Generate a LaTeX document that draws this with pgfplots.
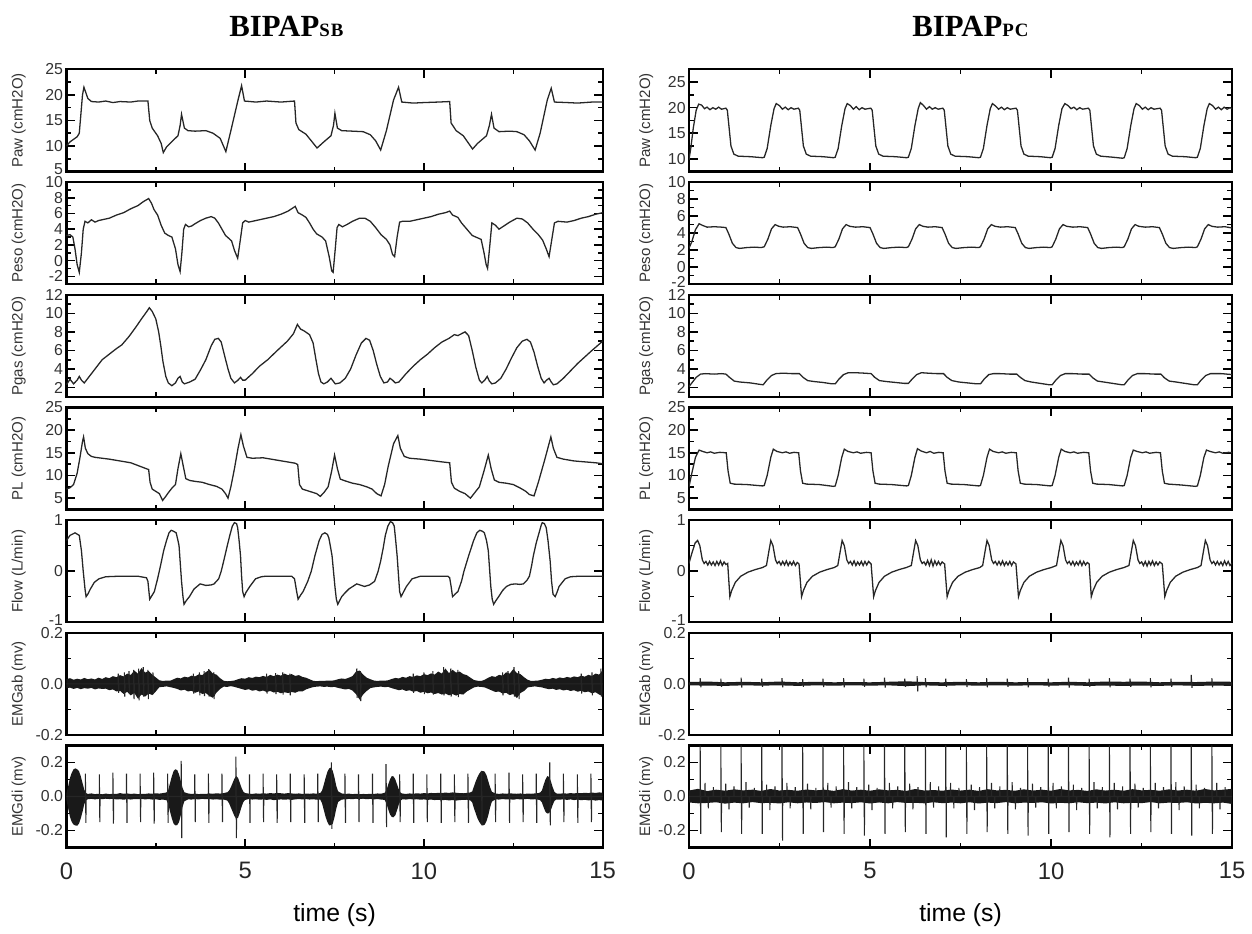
\documentclass[border=0pt]{standalone}
\usepackage{pgfplots}
\pgfplotsset{compat=1.18}
\usepackage{pgfplotstable}
\usepackage{fontspec}
\setmainfont{Liberation Sans}
\newfontfamily\titlefont{Liberation Serif}

\newcommand\up[1]{\raisebox{2.5pt}{#1}}
\newcommand\dn[1]{\raisebox{-1.5pt}{#1}}

\pgfplotsset{
  panel/.style={
    scale only axis, height=51.5pt,
    xmin=0, xmax=15, xtick={0,5,10,15}, minor x tick num=1,
    xticklabels={}, minor y tick num=1,
    tick align=inside,
    major tick length=4.5pt, minor tick length=2.5pt,
    tick style={black, line width=0.8pt},
    axis line style={line width=1.1pt},
    tick label style={font=\fontsize{8}{9}\selectfont, color=black!80},
    yticklabel style={inner sep=1.5pt},
  },
  ylab/.style={every axis y label/.style={at={(axis description cs:0,0.5)},
      xshift=#1, rotate=90, anchor=center,
      font=\fontsize{7.6}{8}\selectfont, color=black!80}},
  L/.style={panel, width=270.5pt, ylab=-24pt},
  R/.style={panel, width=274pt, ylab=-21.5pt},
  sig/.style={black!85, line width=0.65pt},
  spk/.style={black!85, line width=0.55pt},
  band/.style={fill=black!90, draw=none},
  bottom/.style={xticklabels={0,5,10,15},
    xticklabel style={font=\fontsize{12}{13}\selectfont, color=black!85, yshift=-4pt},
    xlabel={time (s)},
    every axis x label/.style={at={(axis description cs:0.5,0)}, anchor=center,
      yshift=-34pt, font=\fontsize{12.5}{14}\selectfont}},
}

% EMG envelopes: t, upper, lower
\pgfplotstableread{
t u l
0.0 .018 -.017
0.1 .022 -.015
0.2 .016 -.020
0.3 .020 -.016
0.4 .017 -.021
0.5 .023 -.017
0.6 .018 -.019
0.7 .021 -.016
0.8 .017 -.022
0.9 .024 -.018
1.0 .019 -.020
1.1 .026 -.019
1.2 .022 -.025
1.3 .030 -.022
1.4 .026 -.030
1.5 .034 -.027
1.6 .029 -.040
1.7 .040 -.031
1.8 .035 -.045
1.9 .052 -.036
2.0 .040 -.058
2.1 .062 -.042
2.2 .044 -.050
2.3 .050 -.038
2.4 .036 -.044
2.5 .025 -.030
2.6 .014 -.013
2.7 .011 -.012
2.8 .013 -.010
2.9 .012 -.013
3.0 .018 -.016
3.1 .024 -.020
3.2 .021 -.026
3.3 .028 -.023
3.4 .025 -.030
3.5 .032 -.027
3.6 .029 -.035
3.7 .037 -.030
3.8 .034 -.040
3.9 .046 -.036
4.0 .055 -.048
4.1 .040 -.055
4.2 .036 -.034
4.3 .022 -.020
4.4 .012 -.011
4.5 .010 -.012
4.6 .011 -.009
4.7 .013 -.012
4.8 .018 -.016
4.9 .022 -.020
5.0 .020 -.024
5.1 .026 -.021
5.2 .023 -.027
5.3 .028 -.024
5.4 .026 -.030
5.5 .031 -.026
5.6 .027 -.032
5.7 .035 -.028
5.8 .030 -.034
5.9 .036 -.031
6.0 .032 -.037
6.1 .040 -.033
6.2 .034 -.036
6.3 .038 -.032
6.4 .031 -.035
6.5 .034 -.029
6.6 .027 -.030
6.7 .024 -.022
6.8 .018 -.017
6.9 .012 -.013
7.0 .010 -.011
7.1 .012 -.010
7.2 .011 -.012
7.3 .013 -.011
7.4 .012 -.013
7.5 .014 -.012
7.6 .018 -.016
7.7 .021 -.019
7.8 .019 -.022
7.9 .024 -.020
8.0 .030 -.026
8.1 .048 -.040
8.2 .052 -.062
8.3 .036 -.042
8.4 .024 -.028
8.5 .018 -.017
8.6 .013 -.014
8.7 .011 -.012
8.8 .013 -.011
8.9 .012 -.013
9.0 .014 -.012
9.1 .019 -.017
9.2 .023 -.021
9.3 .021 -.025
9.4 .027 -.022
9.5 .024 -.028
9.6 .030 -.025
9.7 .027 -.031
9.8 .033 -.028
9.9 .030 -.035
10.0 .038 -.031
10.1 .034 -.037
10.2 .041 -.034
10.3 .036 -.040
10.4 .048 -.036
10.5 .040 -.042
10.6 .060 -.038
10.7 .042 -.045
10.8 .055 -.040
10.9 .044 -.046
11.0 .048 -.040
11.1 .038 -.042
11.2 .034 -.030
11.3 .024 -.022
11.4 .015 -.014
11.5 .012 -.011
11.6 .011 -.012
11.7 .016 -.014
11.8 .024 -.020
11.9 .030 -.026
12.0 .027 -.032
12.1 .035 -.030
12.2 .032 -.038
12.3 .045 -.035
12.4 .040 -.044
12.5 .058 -.040
12.6 .042 -.056
12.7 .038 -.036
12.8 .026 -.028
12.9 .016 -.014
13.0 .011 -.012
13.1 .012 -.010
13.2 .013 -.012
13.3 .016 -.014
13.4 .020 -.018
13.5 .018 -.021
13.6 .023 -.019
13.7 .020 -.024
13.8 .025 -.021
13.9 .022 -.026
14.0 .027 -.023
14.1 .024 -.028
14.2 .029 -.025
14.3 .026 -.031
14.4 .032 -.027
14.5 .028 -.033
14.6 .035 -.030
14.7 .031 -.037
14.8 .040 -.033
14.9 .036 -.042
15.0 .052 -.048
}\emgabL

\pgfplotstableread{
t u l
0.00 .020 -.020
0.05 .060 -.070
0.10 .110 -.120
0.15 .140 -.150
0.20 .160 -.165
0.25 .165 -.170
0.30 .160 -.172
0.35 .150 -.160
0.40 .120 -.130
0.45 .080 -.090
0.50 .040 -.045
0.55 .020 -.022
0.6 .015 -.016
0.7 .018 -.014
0.8 .014 -.017
0.9 .016 -.014
1.0 .013 -.016
1.1 .017 -.013
1.2 .014 -.015
1.3 .016 -.014
1.4 .015 -.017
1.5 .020 -.016
1.6 .016 -.019
1.7 .018 -.015
1.8 .015 -.018
1.9 .017 -.015
2.0 .014 -.016
2.1 .016 -.014
2.2 .015 -.017
2.3 .018 -.015
2.4 .016 -.018
2.5 .019 -.016
2.6 .017 -.020
2.7 .020 -.018
2.8 .024 -.022
2.85 .040 -.045
2.90 .080 -.090
2.95 .120 -.130
3.00 .150 -.160
3.05 .160 -.170
3.10 .155 -.168
3.15 .130 -.150
3.20 .090 -.110
3.25 .050 -.060
3.30 .025 -.028
3.4 .018 -.017
3.5 .015 -.018
3.6 .017 -.015
3.7 .014 -.017
3.8 .016 -.014
3.9 .015 -.016
4.0 .018 -.015
4.1 .016 -.018
4.2 .019 -.016
4.3 .017 -.019
4.4 .020 -.018
4.5 .025 -.024
4.55 .035 -.040
4.60 .055 -.065
4.65 .080 -.090
4.70 .105 -.115
4.75 .120 -.130
4.80 .110 -.125
4.85 .080 -.095
4.90 .050 -.060
4.95 .028 -.032
5.0 .020 -.020
5.1 .017 -.015
5.2 .015 -.018
5.3 .018 -.016
5.4 .016 -.019
5.5 .019 -.017
5.6 .017 -.020
5.7 .020 -.017
5.8 .018 -.021
5.9 .021 -.019
6.0 .019 -.017
6.1 .017 -.019
6.2 .020 -.017
6.3 .018 -.020
6.4 .016 -.017
6.5 .018 -.015
6.6 .015 -.017
6.7 .017 -.015
6.8 .016 -.018
6.9 .018 -.016
7.0 .017 -.019
7.1 .020 -.018
7.15 .035 -.040
7.20 .070 -.080
7.25 .110 -.120
7.30 .145 -.150
7.35 .165 -.170
7.40 .170 -.168
7.45 .150 -.160
7.50 .110 -.120
7.55 .060 -.070
7.60 .030 -.032
7.7 .018 -.018
7.8 .015 -.017
7.9 .017 -.014
8.0 .014 -.016
8.1 .016 -.013
8.2 .013 -.015
8.3 .015 -.013
8.4 .014 -.016
8.5 .016 -.014
8.6 .015 -.017
8.7 .018 -.015
8.8 .016 -.018
8.9 .022 -.020
8.95 .035 -.040
9.00 .070 -.075
9.05 .100 -.105
9.10 .120 -.120
9.15 .118 -.122
9.20 .100 -.110
9.25 .070 -.080
9.30 .040 -.045
9.35 .022 -.024
9.4 .017 -.016
9.5 .015 -.018
9.6 .018 -.015
9.7 .016 -.017
9.8 .019 -.016
9.9 .017 -.019
10.0 .020 -.017
10.1 .018 -.020
10.2 .021 -.018
10.3 .019 -.021
10.4 .022 -.019
10.5 .020 -.022
10.6 .023 -.020
10.7 .021 -.023
10.8 .024 -.021
10.9 .022 -.024
11.0 .020 -.021
11.1 .019 -.020
11.2 .021 -.019
11.3 .024 -.023
11.35 .030 -.035
11.40 .060 -.070
11.45 .090 -.100
11.50 .115 -.130
11.55 .135 -.150
11.60 .148 -.165
11.65 .150 -.170
11.70 .145 -.165
11.75 .125 -.145
11.80 .090 -.110
11.85 .055 -.065
11.90 .028 -.030
12.0 .018 -.017
12.1 .015 -.018
12.2 .018 -.015
12.3 .016 -.017
12.4 .019 -.016
12.5 .017 -.019
12.6 .016 -.015
12.7 .018 -.017
12.8 .015 -.016
12.9 .017 -.014
13.0 .016 -.017
13.1 .018 -.016
13.2 .020 -.019
13.25 .024 -.022
13.30 .035 -.035
13.35 .070 -.065
13.40 .100 -.090
13.45 .120 -.100
13.50 .115 -.098
13.55 .090 -.080
13.60 .055 -.050
13.65 .028 -.026
13.7 .018 -.018
13.8 .016 -.019
13.9 .019 -.016
14.0 .017 -.020
14.1 .020 -.017
14.2 .018 -.021
14.3 .021 -.018
14.4 .019 -.022
14.5 .022 -.019
14.6 .020 -.023
14.7 .023 -.020
14.8 .021 -.024
14.9 .024 -.021
15.0 .022 -.024
}\emgdiL

\pgfplotstableread{
t u l
0.0 .007 -.006
0.5 .009 -.007
1.0 .006 -.008
1.5 .008 -.006
2.0 .006 -.007
2.5 .009 -.006
3.0 .006 -.008
3.5 .008 -.006
4.0 .006 -.007
4.5 .007 -.006
5.0 .006 -.007
5.5 .008 -.006
6.0 .010 -.009
6.5 .007 -.006
7.0 .006 -.008
7.5 .008 -.006
8.0 .006 -.007
8.5 .008 -.006
9.0 .006 -.007
9.5 .007 -.006
10.0 .006 -.007
10.5 .008 -.006
11.0 .006 -.008
11.5 .009 -.007
12.0 .008 -.008
12.5 .009 -.007
13.0 .006 -.008
13.5 .008 -.006
14.0 .007 -.008
14.5 .009 -.007
15.0 .008 -.008
}\emgabR

\pgfplotstableread{
t u l
0.0 .035 -.035
0.25 .045 -.040
0.5 .032 -.038
0.75 .040 -.034
1.0 .034 -.042
1.25 .042 -.036
1.5 .036 -.040
1.75 .040 -.033
2.0 .033 -.039
2.25 .044 -.037
2.5 .035 -.041
2.75 .039 -.034
3.0 .034 -.040
3.25 .041 -.035
3.5 .036 -.038
3.75 .040 -.033
4.0 .033 -.040
4.25 .043 -.036
4.5 .035 -.039
4.75 .040 -.034
5.0 .034 -.041
5.25 .042 -.035
5.5 .036 -.040
5.75 .039 -.033
6.0 .033 -.038
6.25 .044 -.037
6.5 .035 -.040
6.75 .038 -.034
7.0 .034 -.039
7.25 .041 -.036
7.5 .035 -.040
7.75 .040 -.034
8.0 .033 -.041
8.25 .043 -.036
8.5 .036 -.039
8.75 .039 -.033
9.0 .034 -.040
9.25 .042 -.036
9.5 .035 -.038
9.75 .040 -.034
10.0 .034 -.041
10.25 .044 -.037
10.5 .036 -.040
10.75 .039 -.034
11.0 .033 -.039
11.25 .042 -.036
11.5 .035 -.041
11.75 .040 -.034
12.0 .034 -.040
12.25 .043 -.037
12.5 .036 -.039
12.75 .039 -.033
13.0 .034 -.040
13.25 .042 -.036
13.5 .035 -.038
13.75 .040 -.034
14.0 .034 -.041
14.25 .044 -.037
14.5 .036 -.040
14.75 .040 -.036
15.0 .045 -.044
}\emgdiR

\begin{document}
\begin{tikzpicture}
\path (0,0) rectangle (626pt,463.5pt);

\node[anchor=base west, inner sep=0pt] at (115.5pt,445pt)
  {{\titlefont\bfseries\fontsize{15.5}{18}\selectfont BIPAP}{\titlefont\bfseries\fontsize{9.5}{10}\selectfont S\kern0.6pt B}};
\node[anchor=base west, inner sep=0pt] at (460pt,445pt)
  {{\titlefont\bfseries\fontsize{15.5}{18}\selectfont BIPAP}{\titlefont\bfseries\fontsize{9.5}{10}\selectfont P\kern0.6pt C}};

% ---------------- left column: BIPAP SB ----------------
\begin{axis}[L, at={(33.5pt,377pt)}, anchor=south west,
  ymin=5, ymax=25, ytick={5,10,15,20,25}, yticklabels={\up{5},10,15,20,25},
  ylabel={Paw (cmH2O)}]
\addplot[sig] coordinates {(0,10)(0.1,10.8)(0.3,11.8)(0.36,12.5)(0.45,20)(0.49,21.5)(0.6,19.3)(0.7,18.7)(0.9,18.6)(1.1,18.8)(1.3,18.5)(1.5,18.7)(1.8,18.6)(2.0,18.8)(2.28,18.8)(2.33,15)(2.4,13.5)(2.55,12)(2.65,10.5)(2.71,8.7)(2.8,9.8)(3.0,11.2)(3.12,12)(3.18,14)(3.22,16.2)(3.3,13.5)(3.4,13)(3.6,12.9)(3.9,13)(4.1,12.5)(4.3,11.5)(4.46,8.9)(4.6,13)(4.8,19)(4.90,21.8)(4.98,18.8)(5.3,18.6)(5.6,18.8)(6.0,18.6)(6.38,18.8)(6.42,14.5)(6.5,13.2)(6.7,12.3)(6.85,11)(7.01,9.6)(7.2,10.8)(7.4,12)(7.47,14)(7.51,16.4)(7.58,13.5)(7.7,13)(8.0,12.9)(8.3,12.8)(8.5,12.2)(8.65,11)(8.79,9.2)(8.95,13)(9.15,19)(9.29,21.5)(9.38,18.6)(9.7,18.4)(10,18.5)(10.4,18.6)(10.72,18.7)(10.76,14.5)(10.9,13)(11.1,12)(11.2,11)(11.36,9.4)(11.5,10.5)(11.75,12)(11.83,14)(11.89,16.2)(11.96,13.5)(12.1,12.8)(12.4,12.9)(12.6,12.8)(12.8,12.2)(12.95,11)(13.11,9.2)(13.25,12.5)(13.45,19)(13.56,21.3)(13.65,18.6)(14.0,18.5)(14.3,18.4)(14.7,18.6)(15,18.6)};
\end{axis}

\begin{axis}[L, at={(33.5pt,320.17pt)}, anchor=south west,
  ymin=-3, ymax=10, ytick={-2,0,2,4,6,8,10}, yticklabels={-2,0,2,4,6,8,\dn{10}},
  ylabel={Peso (cmH2O)}]
\addplot[sig] coordinates {(0,3.2)(0.1,3.3)(0.18,3.0)(0.24,1.5)(0.30,-0.5)(0.36,-1.5)(0.42,1.0)(0.47,4.0)(0.52,5.0)(0.6,4.8)(0.7,5.2)(0.8,4.9)(0.9,5.1)(1.0,5.2)(1.2,5.4)(1.4,5.8)(1.6,6.1)(1.8,6.6)(2.0,7.0)(2.15,7.5)(2.30,7.9)(2.38,7.3)(2.45,6.5)(2.55,5.8)(2.65,4.5)(2.75,3.5)(2.85,3.2)(2.95,3.0)(3.05,1.5)(3.12,-0.5)(3.18,-1.4)(3.23,1.0)(3.28,4.0)(3.33,4.6)(3.42,4.3)(3.5,4.4)(3.6,4.7)(3.75,5.1)(3.9,5.4)(4.05,5.6)(4.15,5.4)(4.25,4.8)(4.35,4.0)(4.45,3.2)(4.55,2.8)(4.62,2.5)(4.70,1.3)(4.79,0.3)(4.86,2.5)(4.93,4.8)(5.0,5.1)(5.1,4.9)(5.2,5.0)(5.4,5.2)(5.6,5.4)(5.8,5.6)(6.0,5.9)(6.2,6.3)(6.4,6.9)(6.48,6.1)(6.6,5.8)(6.7,5.5)(6.8,4.8)(6.9,4.0)(7.0,3.4)(7.15,3.0)(7.25,2.5)(7.35,0.5)(7.42,-1.3)(7.46,-1.5)(7.52,1.5)(7.57,4.2)(7.62,4.6)(7.72,4.3)(7.85,4.6)(8.0,5.0)(8.2,5.4)(8.35,5.4)(8.5,5.0)(8.65,4.2)(8.8,3.3)(8.95,2.7)(9.05,2.0)(9.12,0.8)(9.18,0.5)(9.25,3.0)(9.32,4.9)(9.4,5.0)(9.6,5.0)(9.8,5.2)(10.0,5.4)(10.2,5.6)(10.4,5.9)(10.6,6.1)(10.72,6.3)(10.8,5.8)(10.95,5.5)(11.05,4.8)(11.2,4.0)(11.35,3.2)(11.5,2.9)(11.6,2.7)(11.68,1.0)(11.74,-0.5)(11.78,-1.0)(11.84,1.8)(11.9,4.8)(12.0,4.5)(12.1,4.0)(12.2,4.3)(12.4,4.9)(12.6,5.4)(12.75,5.3)(12.9,4.8)(13.05,4.0)(13.2,3.3)(13.32,2.6)(13.42,1.5)(13.5,0.5)(13.57,2.5)(13.65,4.8)(13.75,5.0)(14.0,4.9)(14.2,5.1)(14.4,5.4)(14.6,5.6)(14.8,5.9)(15.0,6.1)};
\end{axis}

\begin{axis}[L, at={(33.5pt,263.33pt)}, anchor=south west,
  ymin=1, ymax=12, ytick={2,4,6,8,10,12}, yticklabels={2,4,6,8,10,12},
  ylabel={Pgas (cmH2O)}]
\addplot[sig] coordinates {(0,2.3)(0.1,2.9)(0.2,2.4)(0.3,2.8)(0.36,3.2)(0.42,2.8)(0.5,2.5)(0.6,3.0)(0.8,4.0)(1.0,5.0)(1.2,5.6)(1.4,6.2)(1.55,6.6)(1.75,7.5)(1.94,8.5)(2.1,9.4)(2.25,10.2)(2.32,10.6)(2.4,10.2)(2.5,9.4)(2.58,8.0)(2.64,6.5)(2.7,4.8)(2.78,3.2)(2.85,2.5)(2.95,2.2)(3.05,2.5)(3.12,3.0)(3.18,3.2)(3.24,2.6)(3.3,2.4)(3.45,2.6)(3.6,2.9)(3.75,3.9)(3.9,5.0)(4.05,6.5)(4.15,7.2)(4.25,7.3)(4.33,6.9)(4.42,5.5)(4.52,4.0)(4.6,3.0)(4.7,2.5)(4.8,2.8)(4.87,3.1)(4.93,2.8)(5.0,2.8)(5.2,3.5)(5.4,4.3)(5.63,5.0)(5.9,6.0)(6.18,7.0)(6.35,7.8)(6.46,8.8)(6.55,8.3)(6.65,8.1)(6.8,7.7)(6.9,6.8)(6.98,5.0)(7.05,3.5)(7.12,2.6)(7.2,2.4)(7.3,2.6)(7.4,3.0)(7.46,2.7)(7.52,2.4)(7.65,2.5)(7.8,3.0)(7.95,4.0)(8.1,5.5)(8.25,6.8)(8.38,7.3)(8.48,7.1)(8.58,6.0)(8.68,4.5)(8.78,3.2)(8.88,2.5)(8.98,2.6)(9.05,3.0)(9.12,2.8)(9.2,2.5)(9.3,2.6)(9.5,3.5)(9.7,4.3)(9.9,5.0)(10.1,5.6)(10.3,6.3)(10.5,6.9)(10.7,7.3)(10.85,7.7)(10.95,7.6)(11.05,7.8)(11.15,8.0)(11.25,7.6)(11.35,6.0)(11.45,4.2)(11.55,2.8)(11.62,2.5)(11.7,2.8)(11.77,3.2)(11.83,2.7)(11.9,2.4)(12.0,2.5)(12.15,3.0)(12.3,4.0)(12.45,5.2)(12.6,6.3)(12.75,7.0)(12.88,7.2)(12.98,6.9)(13.08,5.8)(13.18,4.3)(13.28,3.0)(13.36,2.5)(13.43,2.8)(13.5,3.0)(13.56,2.6)(13.62,2.3)(13.72,2.4)(13.9,3.0)(14.1,3.8)(14.3,4.6)(14.5,5.3)(14.7,6.0)(14.85,6.5)(15.0,7.0)};
\end{axis}

\begin{axis}[L, at={(33.5pt,206.5pt)}, anchor=south west,
  ymin=2.5, ymax=25, ytick={5,10,15,20,25}, yticklabels={5,10,15,20,25},
  ylabel={PL (cmH2O)}]
\addplot[sig] coordinates {(0,7.0)(0.1,7.3)(0.2,8.0)(0.3,10.5)(0.38,14)(0.45,17.5)(0.48,18.5)(0.53,16)(0.6,14.8)(0.7,14.2)(0.8,14.0)(1.0,13.8)(1.2,13.6)(1.5,13.2)(1.8,12.8)(2.0,12.2)(2.2,11.6)(2.30,11.3)(2.34,8.5)(2.4,7.0)(2.5,6.5)(2.6,6.0)(2.69,4.5)(2.77,5.3)(2.85,6.2)(2.95,7.2)(3.05,8.0)(3.12,11.5)(3.2,14.8)(3.27,12)(3.34,9.3)(3.45,8.9)(3.6,8.7)(3.8,8.5)(4.0,8.0)(4.2,7.6)(4.35,7.0)(4.45,6.0)(4.52,5.0)(4.6,7.5)(4.7,11.5)(4.8,16)(4.88,19.0)(4.95,16.5)(5.05,14)(5.2,13.8)(5.5,13.9)(5.8,13.5)(6.1,13.1)(6.4,12.7)(6.47,12.4)(6.52,8.0)(6.6,7.0)(6.8,6.5)(7.0,6.0)(7.1,5.4)(7.2,6.2)(7.32,7.5)(7.42,11.0)(7.5,14.5)(7.58,11.5)(7.66,9.2)(7.8,8.8)(8.0,8.3)(8.2,8.0)(8.4,7.5)(8.55,7.0)(8.68,6.0)(8.8,5.5)(8.9,8.0)(9.0,12.0)(9.15,17)(9.27,18.8)(9.34,16)(9.45,14.2)(9.6,13.8)(9.9,13.6)(10.2,13.3)(10.5,13.0)(10.72,12.8)(10.77,8.5)(10.85,7.2)(11.0,6.5)(11.15,6.0)(11.3,5.0)(11.4,6.0)(11.55,7.5)(11.68,11)(11.8,14.5)(11.88,11.5)(11.97,9.0)(12.1,8.5)(12.3,8.3)(12.5,8.0)(12.7,7.2)(12.85,6.5)(12.95,5.8)(13.08,5.5)(13.2,8.5)(13.38,13.5)(13.55,18.5)(13.62,16)(13.72,14.0)(13.9,13.6)(14.2,13.2)(14.5,13.0)(14.8,12.8)(15.0,12.6)};
\end{axis}

\begin{axis}[L, at={(33.5pt,149.67pt)}, anchor=south west,
  ymin=-1, ymax=1, ytick={-1,0,1}, yticklabels={\up{-1},0,1},
  ylabel={Flow (L/min)}]
\addplot[sig] coordinates {(0,0.6)(0.1,0.7)(0.24,0.75)(0.36,0.7)(0.42,0.4)(0.47,0.0)(0.52,-0.35)(0.55,-0.5)(0.6,-0.45)(0.67,-0.35)(0.78,-0.22)(0.91,-0.15)(1.1,-0.11)(1.46,-0.1)(2.0,-0.1)(2.24,-0.13)(2.28,-0.2)(2.33,-0.55)(2.40,-0.47)(2.46,-0.4)(2.55,-0.15)(2.63,0.1)(2.72,0.4)(2.80,0.6)(2.87,0.75)(2.93,0.8)(3.0,0.78)(3.07,0.75)(3.12,0.6)(3.15,0.5)(3.19,0.1)(3.22,-0.2)(3.26,-0.5)(3.29,-0.65)(3.35,-0.58)(3.44,-0.5)(3.57,-0.35)(3.74,-0.25)(3.9,-0.28)(4.05,-0.27)(4.13,-0.25)(4.26,-0.15)(4.33,0.0)(4.4,0.2)(4.5,0.5)(4.57,0.7)(4.64,0.88)(4.70,0.95)(4.76,0.93)(4.79,0.85)(4.83,0.6)(4.87,0.3)(4.90,-0.1)(4.93,-0.4)(4.97,-0.5)(5.02,-0.42)(5.13,-0.3)(5.29,-0.15)(5.45,-0.11)(5.57,-0.1)(6.3,-0.1)(6.38,-0.15)(6.44,-0.4)(6.48,-0.55)(6.55,-0.47)(6.62,-0.4)(6.75,-0.2)(6.85,0.0)(6.95,0.3)(7.07,0.6)(7.15,0.72)(7.23,0.75)(7.3,0.72)(7.34,0.65)(7.38,0.5)(7.43,0.3)(7.47,0.0)(7.51,-0.3)(7.55,-0.55)(7.59,-0.65)(7.64,-0.58)(7.70,-0.5)(7.8,-0.42)(7.9,-0.35)(8.12,-0.25)(8.25,-0.28)(8.34,-0.3)(8.48,-0.27)(8.62,-0.2)(8.72,0.0)(8.79,0.2)(8.86,0.45)(8.92,0.7)(8.99,0.88)(9.06,0.97)(9.12,0.95)(9.17,0.88)(9.21,0.6)(9.25,0.3)(9.28,0.0)(9.32,-0.4)(9.36,-0.5)(9.42,-0.42)(9.51,-0.3)(9.67,-0.15)(9.9,-0.1)(10.67,-0.1)(10.72,-0.13)(10.76,-0.3)(10.80,-0.5)(10.87,-0.45)(10.95,-0.4)(11.05,-0.2)(11.12,0.0)(11.25,0.3)(11.39,0.6)(11.48,0.75)(11.56,0.8)(11.64,0.78)(11.69,0.75)(11.75,0.6)(11.80,0.4)(11.84,0.0)(11.87,-0.3)(11.91,-0.55)(11.95,-0.65)(12.01,-0.58)(12.09,-0.5)(12.2,-0.38)(12.31,-0.3)(12.43,-0.26)(12.56,-0.25)(12.68,-0.26)(12.78,-0.25)(12.88,-0.18)(12.95,-0.1)(13.01,0.1)(13.06,0.3)(13.14,0.55)(13.22,0.75)(13.28,0.9)(13.31,0.95)(13.37,0.93)(13.42,0.85)(13.47,0.6)(13.53,0.2)(13.57,-0.2)(13.61,-0.45)(13.67,-0.5)(13.72,-0.42)(13.78,-0.3)(13.95,-0.15)(14.1,-0.11)(14.33,-0.1)(15,-0.1)};
\end{axis}

\begin{axis}[L, at={(33.5pt,92.83pt)}, anchor=south west,
  ymin=-0.2, ymax=0.2, ytick={-0.2,0,0.2}, yticklabels={-0.2,0.0,\dn{0.2}},
  ylabel={EMGab (mv)}]
\addplot[band] table[x=t,y=u] {\emgabL} \closedcycle;
\addplot[band] table[x=t,y=l] {\emgabL} \closedcycle;
% sharper individual excursions within the bursts
\addplot[spk] coordinates {(0,0)
(1.45,0)(1.45,.04)(1.462,-.035)(1.47,0)
(1.62,0)(1.62,.045)(1.632,-.05)(1.64,0)
(1.75,0)(1.75,.05)(1.762,-.04)(1.77,0)
(1.88,0)(1.88,.055)(1.892,-.06)(1.90,0)
(2.02,0)(2.02,.06)(2.032,-.065)(2.04,0)
(2.15,0)(2.15,.065)(2.162,-.05)(2.17,0)
(2.28,0)(2.28,.055)(2.292,-.06)(2.30,0)
(2.42,0)(2.42,.045)(2.432,-.04)(2.44,0)
(3.55,0)(3.55,.04)(3.562,-.038)(3.57,0)
(3.72,0)(3.72,.045)(3.732,-.045)(3.74,0)
(3.85,0)(3.85,.05)(3.862,-.048)(3.87,0)
(3.98,0)(3.98,.058)(3.992,-.05)(4.00,0)
(4.12,0)(4.12,.045)(4.132,-.06)(4.14,0)
(5.60,0)(5.60,.04)(5.612,-.038)(5.62,0)
(5.85,0)(5.85,.042)(5.862,-.04)(5.87,0)
(6.05,0)(6.05,.045)(6.062,-.042)(6.07,0)
(6.25,0)(6.25,.04)(6.262,-.045)(6.27,0)
(8.12,0)(8.12,.06)(8.132,-.055)(8.14,0)
(8.22,0)(8.22,.05)(8.232,-.068)(8.24,0)
(9.70,0)(9.70,.04)(9.712,-.035)(9.72,0)
(10.00,0)(10.00,.045)(10.012,-.04)(10.02,0)
(10.25,0)(10.25,.05)(10.262,-.042)(10.27,0)
(10.55,0)(10.55,.065)(10.562,-.045)(10.57,0)
(10.75,0)(10.75,.06)(10.762,-.05)(10.77,0)
(10.95,0)(10.95,.055)(10.962,-.052)(10.97,0)
(12.20,0)(12.20,.045)(12.212,-.045)(12.22,0)
(12.35,0)(12.35,.05)(12.362,-.04)(12.37,0)
(12.52,0)(12.52,.065)(12.532,-.05)(12.54,0)
(12.65,0)(12.65,.05)(12.662,-.06)(12.67,0)
(14.40,0)(14.40,.04)(14.412,-.038)(14.42,0)
(14.70,0)(14.70,.045)(14.712,-.045)(14.72,0)
(14.95,0)(14.95,.06)(14.962,-.05)(14.97,0)
(15,0)};
\end{axis}

\begin{axis}[L, bottom, at={(33.5pt,36pt)}, anchor=south west,
  ymin=-0.3, ymax=0.3, ytick={-0.2,0,0.2}, yticklabels={-0.2,0.0,0.2},
  ylabel={EMGdi (mv)}]
\addplot[band] table[x=t,y=u] {\emgdiL} \closedcycle;
\addplot[band] table[x=t,y=l] {\emgdiL} \closedcycle;
% cardiac artefact spikes
\addplot[spk] coordinates {(0,0)
(0.53,0)(0.53,.135)(0.545,-.155)(0.55,0)
(0.92,0)(0.92,.13)(0.935,-.15)(0.94,0)
(1.30,0)(1.30,.14)(1.315,-.16)(1.32,0)
(1.68,0)(1.68,.135)(1.695,-.155)(1.70,0)
(2.06,0)(2.06,.135)(2.075,-.15)(2.08,0)
(2.44,0)(2.44,.14)(2.455,-.16)(2.46,0)
(2.83,0)(2.83,.135)(2.845,-.155)(2.85,0)
(3.21,0)(3.21,.21)(3.225,-.245)(3.23,0)
(3.59,0)(3.59,.13)(3.605,-.15)(3.61,0)
(3.97,0)(3.97,.135)(3.985,-.155)(3.99,0)
(4.35,0)(4.35,.135)(4.365,-.15)(4.37,0)
(4.74,0)(4.74,.235)(4.755,-.245)(4.76,0)
(5.12,0)(5.12,.13)(5.135,-.155)(5.14,0)
(5.50,0)(5.50,.135)(5.515,-.15)(5.52,0)
(5.88,0)(5.88,.13)(5.895,-.155)(5.90,0)
(6.26,0)(6.26,.135)(6.275,-.15)(6.28,0)
(6.65,0)(6.65,.13)(6.665,-.155)(6.67,0)
(7.03,0)(7.03,.135)(7.045,-.15)(7.05,0)
(7.41,0)(7.41,.20)(7.425,-.19)(7.43,0)
(7.79,0)(7.79,.135)(7.805,-.155)(7.81,0)
(8.17,0)(8.17,.13)(8.185,-.15)(8.19,0)
(8.56,0)(8.56,.135)(8.575,-.155)(8.58,0)
(8.94,0)(8.94,.19)(8.955,-.18)(8.96,0)
(9.32,0)(9.32,.13)(9.335,-.15)(9.34,0)
(9.70,0)(9.70,.135)(9.715,-.155)(9.72,0)
(10.08,0)(10.08,.13)(10.095,-.15)(10.10,0)
(10.47,0)(10.47,.135)(10.485,-.155)(10.49,0)
(10.85,0)(10.85,.13)(10.865,-.15)(10.87,0)
(11.23,0)(11.23,.135)(11.245,-.155)(11.25,0)
(11.61,0)(11.61,.15)(11.625,-.17)(11.63,0)
(11.99,0)(11.99,.135)(12.005,-.15)(12.01,0)
(12.38,0)(12.38,.14)(12.395,-.155)(12.40,0)
(12.76,0)(12.76,.13)(12.775,-.15)(12.78,0)
(13.14,0)(13.14,.135)(13.155,-.155)(13.16,0)
(13.52,0)(13.52,.20)(13.535,-.17)(13.54,0)
(13.90,0)(13.90,.135)(13.915,-.15)(13.92,0)
(14.29,0)(14.29,.13)(14.305,-.155)(14.31,0)
(14.67,0)(14.67,.135)(14.685,-.15)(14.69,0)
(15,0)};
\end{axis}

% ---------------- right column: BIPAP PC ----------------
\begin{axis}[R, at={(347.5pt,377pt)}, anchor=south west,
  ymin=7.5, ymax=27.5, ytick={10,15,20,25}, yticklabels={10,15,20,25},
  ylabel={Paw (cmH2O)}]
\addplot[sig] coordinates {(0,9.8)(0.05,12)(0.12,16)(0.2,19.5)(0.27,20.7)(0.35,20.5)(0.43,19.8)(0.5,20.1)(0.58,19.6)(0.66,20.0)(0.74,19.7)(0.82,20.1)(0.9,19.7)(1.02,19.9)(1.06,19.5)(1.11,16)(1.16,12.5)(1.24,10.9)(1.36,10.5)(1.7,10.4)(2.03,10.2)
(2.08,10.3)(2.16,12)(2.26,16.5)(2.35,19.8)(2.41,20.8)(2.5,20.4)(2.58,19.7)(2.66,20.1)(2.74,19.6)(2.82,20.0)(2.9,19.7)(3.02,19.9)(3.06,19.5)(3.11,16)(3.16,12.5)(3.24,10.9)(3.36,10.5)(3.7,10.4)(3.99,10.2)
(4.04,10.3)(4.12,12)(4.22,16.5)(4.31,19.8)(4.37,20.8)(4.46,20.4)(4.54,19.7)(4.62,20.2)(4.70,19.6)(4.78,20.0)(4.86,19.7)(5.02,19.9)(5.06,19.5)(5.11,16)(5.16,12.5)(5.24,10.9)(5.36,10.5)(5.7,10.4)(6.01,10.2)
(6.06,10.3)(6.14,12)(6.24,16.5)(6.33,19.8)(6.39,21.0)(6.48,20.4)(6.56,19.7)(6.64,20.2)(6.72,19.7)(6.80,20.0)(6.88,19.7)(7.01,19.9)(7.05,19.5)(7.10,16)(7.15,12.5)(7.23,10.9)(7.35,10.5)(7.7,10.4)(8.0,10.2)
(8.05,10.3)(8.13,12)(8.23,16.5)(8.32,19.8)(8.38,20.8)(8.47,20.3)(8.55,19.7)(8.63,20.1)(8.71,19.6)(8.79,20.0)(8.87,19.7)(9.03,19.9)(9.07,19.5)(9.12,16)(9.17,12.5)(9.25,10.9)(9.37,10.5)(9.7,10.4)(9.98,10.2)
(10.03,10.3)(10.11,12)(10.21,16.5)(10.30,19.8)(10.38,20.8)(10.47,20.4)(10.55,19.8)(10.63,20.1)(10.71,19.6)(10.79,20.0)(10.87,19.7)(11.03,19.9)(11.07,19.5)(11.12,16)(11.17,12.5)(11.25,10.9)(11.37,10.5)(11.7,10.3)(11.97,10.1)
(12.02,10.2)(12.10,12)(12.20,16.5)(12.29,19.8)(12.35,20.8)(12.44,20.4)(12.52,19.7)(12.60,20.1)(12.68,19.6)(12.76,20.0)(12.84,19.7)(13.01,19.9)(13.05,19.5)(13.10,16)(13.15,12.5)(13.23,10.9)(13.35,10.5)(13.7,10.4)(13.99,10.2)
(14.04,10.3)(14.12,12)(14.22,16.5)(14.31,19.8)(14.37,20.8)(14.46,20.4)(14.54,19.7)(14.62,20.1)(14.70,19.6)(14.78,20.1)(14.86,19.7)(14.94,20.0)(15,19.8)};
\end{axis}

\begin{axis}[R, at={(347.5pt,320.17pt)}, anchor=south west,
  ymin=-2, ymax=10, ytick={-2,0,2,4,6,8,10}, yticklabels={\up{-2},0,2,4,6,8,\dn{10}},
  ylabel={Peso (cmH2O)}]
\addplot[sig] coordinates {(0,2.2)(0.08,3.0)(0.18,4.4)(0.28,5.1)(0.38,4.9)(0.5,4.7)(0.7,4.75)(0.9,4.7)(1.02,4.65)(1.1,3.9)(1.2,2.8)(1.3,2.3)(1.4,2.2)(1.6,2.3)(1.8,2.35)(2.0,2.3)
(2.08,2.4)(2.18,3.3)(2.28,4.5)(2.38,5.0)(2.48,4.8)(2.6,4.7)(2.8,4.75)(3.0,4.65)(3.08,3.9)(3.18,2.8)(3.28,2.3)(3.38,2.2)(3.6,2.3)(3.8,2.35)(3.98,2.3)
(4.04,2.4)(4.14,3.3)(4.24,4.5)(4.34,5.0)(4.44,4.8)(4.6,4.7)(4.8,4.75)(5.0,4.65)(5.08,3.9)(5.18,2.8)(5.28,2.3)(5.38,2.2)(5.6,2.3)(5.8,2.35)(6.0,2.3)
(6.06,2.4)(6.16,3.3)(6.26,4.5)(6.36,5.0)(6.46,4.8)(6.6,4.7)(6.8,4.75)(6.99,4.65)(7.07,3.9)(7.17,2.8)(7.27,2.3)(7.37,2.2)(7.6,2.3)(7.8,2.35)(8.0,2.3)
(8.05,2.4)(8.15,3.3)(8.25,4.5)(8.35,5.0)(8.45,4.8)(8.6,4.7)(8.8,4.75)(9.01,4.65)(9.09,3.9)(9.19,2.8)(9.29,2.3)(9.39,2.2)(9.6,2.3)(9.8,2.35)(9.98,2.3)
(10.03,2.4)(10.13,3.3)(10.23,4.5)(10.33,5.0)(10.43,4.8)(10.6,4.7)(10.8,4.75)(11.01,4.65)(11.09,3.9)(11.19,2.8)(11.29,2.3)(11.39,2.2)(11.6,2.3)(11.8,2.35)(11.97,2.3)
(12.02,2.4)(12.12,3.3)(12.22,4.5)(12.32,5.0)(12.42,4.8)(12.6,4.7)(12.8,4.75)(12.99,4.65)(13.07,3.9)(13.17,2.8)(13.27,2.3)(13.37,2.2)(13.6,2.3)(13.8,2.35)(13.99,2.3)
(14.04,2.4)(14.14,3.3)(14.24,4.5)(14.34,5.0)(14.44,4.8)(14.6,4.7)(14.8,4.75)(15,4.6)};
\end{axis}

\begin{axis}[R, at={(347.5pt,263.33pt)}, anchor=south west,
  ymin=1, ymax=12, ytick={2,4,6,8,10,12}, yticklabels={2,4,6,8,10,\dn{12}},
  ylabel={Pgas (cmH2O)}]
\addplot[sig] coordinates {(0,2.1)(0.1,2.6)(0.2,3.1)(0.32,3.45)(0.45,3.5)(0.7,3.45)(0.9,3.5)(1.02,3.45)(1.12,3.1)(1.25,2.7)(1.4,2.6)(1.7,2.5)(1.95,2.35)(2.05,2.3)
(2.15,2.8)(2.28,3.3)(2.4,3.5)(2.6,3.55)(2.85,3.5)(3.05,3.5)(3.15,3.1)(3.28,2.75)(3.45,2.65)(3.7,2.55)(3.95,2.4)(4.04,2.4)
(4.14,2.9)(4.27,3.4)(4.4,3.6)(4.6,3.6)(4.85,3.55)(5.03,3.5)(5.13,3.1)(5.26,2.75)(5.45,2.65)(5.7,2.55)(5.95,2.45)(6.06,2.45)
(6.16,2.9)(6.29,3.4)(6.42,3.6)(6.6,3.55)(6.85,3.5)(7.03,3.5)(7.13,3.1)(7.26,2.75)(7.45,2.6)(7.7,2.5)(7.95,2.4)(8.05,2.4)
(8.15,2.9)(8.28,3.4)(8.41,3.5)(8.6,3.5)(8.85,3.45)(9.05,3.45)(9.15,3.1)(9.28,2.75)(9.45,2.6)(9.7,2.45)(9.95,2.3)(10.03,2.3)
(10.13,2.8)(10.26,3.3)(10.39,3.5)(10.6,3.5)(10.85,3.45)(11.05,3.45)(11.15,3.05)(11.28,2.7)(11.45,2.6)(11.7,2.45)(11.95,2.3)(12.02,2.3)
(12.12,2.8)(12.25,3.3)(12.38,3.5)(12.6,3.5)(12.85,3.45)(13.03,3.45)(13.13,3.05)(13.26,2.7)(13.45,2.6)(13.7,2.45)(13.95,2.3)(14.04,2.3)
(14.14,2.8)(14.27,3.3)(14.4,3.5)(14.7,3.5)(15,3.4)};
\end{axis}

\begin{axis}[R, at={(347.5pt,206.5pt)}, anchor=south west,
  ymin=2.5, ymax=25, ytick={5,10,15,20,25}, yticklabels={5,10,15,20,25},
  ylabel={PL (cmH2O)}]
\addplot[sig] coordinates {(0,7.5)(0.08,10.5)(0.18,14.0)(0.28,15.6)(0.38,15.3)(0.5,15.0)(0.6,15.2)(0.7,14.9)(0.85,15.1)(1.03,15.0)(1.08,11)(1.14,8.3)(1.25,8.1)(1.6,8.0)(2.03,7.7)
(2.08,7.8)(2.16,10)(2.26,14)(2.33,15.8)(2.43,15.3)(2.58,15.0)(2.68,15.2)(2.78,14.9)(2.9,15.1)(3.03,15.0)(3.08,11)(3.14,8.3)(3.25,8.1)(3.6,8.0)(3.99,7.6)
(4.04,7.7)(4.12,10)(4.22,14)(4.29,15.8)(4.39,15.3)(4.54,15.0)(4.64,15.2)(4.74,14.9)(4.9,15.1)(5.03,15.0)(5.08,11)(5.14,8.3)(5.25,8.1)(5.6,8.0)(6.01,7.7)
(6.06,7.8)(6.14,10)(6.24,14)(6.31,15.9)(6.41,15.4)(6.56,15.0)(6.66,15.3)(6.76,14.9)(6.9,15.1)(7.02,15.0)(7.07,11)(7.13,8.3)(7.24,8.1)(7.6,8.0)(8.0,7.7)
(8.05,7.8)(8.13,10)(8.23,14)(8.30,15.8)(8.40,15.3)(8.55,15.0)(8.65,15.2)(8.75,14.9)(8.9,15.1)(9.04,15.0)(9.09,11)(9.15,8.3)(9.26,8.1)(9.6,8.0)(9.98,7.7)
(10.03,7.8)(10.11,10)(10.21,14)(10.28,15.8)(10.38,15.3)(10.53,15.0)(10.63,15.2)(10.73,14.9)(10.9,15.1)(11.04,15.0)(11.09,11)(11.15,8.3)(11.26,8.1)(11.6,8.0)(11.97,7.7)
(12.02,7.8)(12.10,10)(12.20,14)(12.27,15.6)(12.37,15.3)(12.52,15.0)(12.62,15.2)(12.72,14.9)(12.9,15.1)(13.02,15.0)(13.07,11)(13.13,8.3)(13.24,8.1)(13.6,7.9)(13.99,7.6)
(14.04,7.7)(14.12,10)(14.22,14)(14.29,15.6)(14.39,15.3)(14.54,15.0)(14.64,15.2)(14.74,14.9)(14.9,15.1)(15,15.0)};
\end{axis}

\begin{axis}[R, at={(347.5pt,149.67pt)}, anchor=south west,
  ymin=-1, ymax=1, ytick={-1,0,1}, yticklabels={\up{-1},0,1},
  ylabel={Flow (L/min)}]
\addplot[sig] coordinates {(0,0.15)(0.08,0.35)(0.17,0.55)(0.24,0.6)(0.30,0.5)(0.37,0.22)(0.42,0.15)
(0.47,0.19)(0.52,0.12)(0.57,0.19)(0.62,0.12)(0.67,0.18)(0.72,0.11)(0.77,0.19)(0.82,0.12)(0.87,0.20)(0.92,0.11)(0.97,0.18)(1.02,0.13)(1.07,0.15)
(1.13,-0.5)(1.18,-0.38)(1.28,-0.22)(1.43,-0.1)(1.63,-0.02)(1.83,0.03)(2.03,0.07)(2.14,0.11)
(2.21,0.4)(2.26,0.6)(2.32,0.5)(2.39,0.22)(2.44,0.15)(2.49,0.19)(2.54,0.12)(2.59,0.19)(2.64,0.12)(2.69,0.20)(2.74,0.11)(2.79,0.18)(2.84,0.12)(2.89,0.19)(2.94,0.11)(2.99,0.17)(3.04,0.14)
(3.11,-0.5)(3.16,-0.38)(3.26,-0.22)(3.41,-0.1)(3.61,-0.02)(3.81,0.03)(4.01,0.07)(4.11,0.11)
(4.18,0.4)(4.23,0.6)(4.29,0.5)(4.36,0.22)(4.41,0.15)(4.46,0.19)(4.51,0.12)(4.56,0.20)(4.61,0.11)(4.66,0.18)(4.71,0.12)(4.76,0.19)(4.81,0.11)(4.86,0.19)(4.91,0.12)(4.96,0.19)(5.03,0.14)
(5.10,-0.5)(5.15,-0.38)(5.25,-0.22)(5.40,-0.1)(5.60,-0.02)(5.80,0.03)(6.00,0.07)(6.14,0.11)
(6.21,0.4)(6.26,0.6)(6.32,0.5)(6.39,0.22)(6.44,0.15)(6.49,0.18)(6.54,0.12)(6.59,0.21)(6.64,0.11)(6.69,0.22)(6.74,0.10)(6.79,0.20)(6.84,0.12)(6.89,0.19)(6.94,0.12)(6.99,0.18)(7.06,0.14)
(7.13,-0.5)(7.18,-0.38)(7.28,-0.22)(7.43,-0.1)(7.63,-0.02)(7.83,0.03)(8.03,0.07)(8.11,0.11)
(8.18,0.4)(8.23,0.6)(8.29,0.5)(8.36,0.22)(8.41,0.15)(8.46,0.19)(8.51,0.12)(8.56,0.19)(8.61,0.12)(8.66,0.20)(8.71,0.11)(8.76,0.18)(8.81,0.12)(8.86,0.19)(8.91,0.11)(8.96,0.18)(9.03,0.14)
(9.10,-0.5)(9.15,-0.38)(9.25,-0.22)(9.40,-0.1)(9.60,-0.02)(9.80,0.03)(10.00,0.07)(10.15,0.11)
(10.22,0.4)(10.27,0.6)(10.33,0.5)(10.40,0.22)(10.45,0.15)(10.50,0.19)(10.55,0.12)(10.60,0.19)(10.65,0.11)(10.70,0.18)(10.75,0.12)(10.80,0.20)(10.85,0.11)(10.90,0.19)(10.95,0.12)(11.00,0.17)(11.05,0.14)
(11.11,-0.5)(11.16,-0.38)(11.26,-0.22)(11.41,-0.1)(11.61,-0.02)(11.81,0.03)(12.01,0.07)(12.15,0.11)
(12.22,0.4)(12.27,0.6)(12.33,0.5)(12.40,0.22)(12.45,0.15)(12.50,0.18)(12.55,0.11)(12.60,0.19)(12.65,0.10)(12.70,0.19)(12.75,0.12)(12.80,0.20)(12.85,0.11)(12.90,0.18)(12.95,0.12)(13.00,0.18)(13.07,0.14)
(13.14,-0.5)(13.19,-0.38)(13.29,-0.22)(13.44,-0.1)(13.64,-0.02)(13.84,0.03)(14.04,0.07)(14.14,0.11)
(14.21,0.4)(14.26,0.6)(14.32,0.5)(14.39,0.22)(14.44,0.15)(14.49,0.19)(14.54,0.12)(14.59,0.19)(14.64,0.12)(14.69,0.18)(14.74,0.11)(14.79,0.20)(14.84,0.12)(14.89,0.19)(14.94,0.11)(15.0,0.16)};
\end{axis}

\begin{axis}[R, at={(347.5pt,92.83pt)}, anchor=south west,
  ymin=-0.2, ymax=0.2, ytick={-0.2,0,0.2}, yticklabels={-0.2,0.0,\dn{0.2}},
  ylabel={EMGab (mv)}]
\addplot[band] table[x=t,y=u] {\emgabR} \closedcycle;
\addplot[band] table[x=t,y=l] {\emgabR} \closedcycle;
\addplot[spk] coordinates {(0,0)
(0.31,0)(0.31,.022)(0.33,-.014)(0.335,0)
(0.88,0)(0.88,.02)(0.90,-.012)(0.905,0)
(1.44,0)(1.44,.024)(1.46,-.015)(1.465,0)
(2.01,0)(2.01,.02)(2.03,-.012)(2.035,0)
(2.57,0)(2.57,.022)(2.59,-.014)(2.595,0)
(3.14,0)(3.14,.018)(3.16,-.012)(3.165,0)
(3.70,0)(3.70,.02)(3.72,-.013)(3.725,0)
(4.27,0)(4.27,.022)(4.29,-.014)(4.295,0)
(4.83,0)(4.83,.02)(4.85,-.012)(4.855,0)
(5.40,0)(5.40,.024)(5.42,-.015)(5.425,0)
(5.96,0)(5.96,.02)(5.98,-.012)(5.985,0)
(6.30,0)(6.30,.03)(6.32,-.03)(6.325,0)
(6.53,0)(6.53,.022)(6.55,-.014)(6.555,0)
(7.09,0)(7.09,.02)(7.11,-.012)(7.115,0)
(7.66,0)(7.66,.018)(7.68,-.013)(7.685,0)
(8.22,0)(8.22,.022)(8.24,-.014)(8.245,0)
(8.79,0)(8.79,.02)(8.81,-.012)(8.815,0)
(9.35,0)(9.35,.022)(9.37,-.014)(9.375,0)
(9.92,0)(9.92,.02)(9.94,-.012)(9.945,0)
(10.48,0)(10.48,.024)(10.50,-.015)(10.505,0)
(11.05,0)(11.05,.02)(11.07,-.012)(11.075,0)
(11.61,0)(11.61,.022)(11.63,-.014)(11.635,0)
(12.18,0)(12.18,.02)(12.20,-.012)(12.205,0)
(12.74,0)(12.74,.022)(12.76,-.014)(12.765,0)
(13.31,0)(13.31,.02)(13.33,-.012)(13.335,0)
(13.87,0)(13.87,.035)(13.89,-.016)(13.895,0)
(14.44,0)(14.44,.022)(14.46,-.014)(14.465,0)
(15,0)};
\end{axis}

\begin{axis}[R, bottom, at={(347.5pt,36pt)}, anchor=south west,
  ymin=-0.3, ymax=0.3, ytick={-0.2,0,0.2}, yticklabels={-0.2,0.0,0.2},
  ylabel={EMGdi (mv)}]
\addplot[band] table[x=t,y=u] {\emgdiR} \closedcycle;
\addplot[band] table[x=t,y=l] {\emgdiR} \closedcycle;
% cardiac artefact: large spikes and smaller deflections
\addplot[spk] coordinates {(0,0)
(0.31,0)(0.31,.3)(0.325,-.22)(0.33,0)(0.44,0)(0.445,.08)(0.45,0)(0.53,0)(0.535,-.07)(0.54,0)(0.67,0)(0.675,.055)(0.68,0)
(0.88,0)(0.88,.3)(0.895,-.21)(0.90,0)(1.01,0)(1.015,.075)(1.02,0)(1.10,0)(1.105,-.075)(1.11,0)(1.24,0)(1.245,.06)(1.25,0)
(1.44,0)(1.44,.3)(1.455,-.22)(1.46,0)(1.57,0)(1.575,.085)(1.58,0)(1.66,0)(1.665,-.065)(1.67,0)(1.80,0)(1.805,.05)(1.81,0)
(2.01,0)(2.01,.3)(2.025,-.22)(2.03,0)(2.14,0)(2.145,.07)(2.15,0)(2.23,0)(2.235,-.08)(2.24,0)(2.37,0)(2.375,.06)(2.38,0)
(2.57,0)(2.57,.3)(2.585,-.26)(2.59,0)(2.70,0)(2.705,.08)(2.71,0)(2.79,0)(2.795,-.07)(2.80,0)(2.93,0)(2.935,.055)(2.94,0)
(3.14,0)(3.14,.3)(3.155,-.22)(3.16,0)(3.27,0)(3.275,.075)(3.28,0)(3.36,0)(3.365,-.075)(3.37,0)(3.50,0)(3.505,.05)(3.51,0)
(3.70,0)(3.70,.3)(3.715,-.21)(3.72,0)(3.83,0)(3.835,.08)(3.84,0)(3.92,0)(3.925,-.065)(3.93,0)(4.06,0)(4.065,.06)(4.07,0)
(4.27,0)(4.27,.3)(4.285,-.22)(4.29,0)(4.40,0)(4.405,.085)(4.41,0)(4.49,0)(4.495,-.07)(4.50,0)(4.63,0)(4.635,.055)(4.64,0)
(4.83,0)(4.83,.3)(4.845,-.23)(4.85,0)(4.96,0)(4.965,.07)(4.97,0)(5.05,0)(5.055,-.08)(5.06,0)(5.19,0)(5.195,.05)(5.20,0)
(5.40,0)(5.40,.3)(5.415,-.22)(5.42,0)(5.53,0)(5.535,.08)(5.54,0)(5.62,0)(5.625,-.07)(5.63,0)(5.76,0)(5.765,.06)(5.77,0)
(5.96,0)(5.96,.3)(5.975,-.21)(5.98,0)(6.09,0)(6.095,.075)(6.10,0)(6.18,0)(6.185,-.075)(6.19,0)(6.32,0)(6.325,.055)(6.33,0)
(6.53,0)(6.53,.3)(6.545,-.22)(6.55,0)(6.66,0)(6.665,.085)(6.67,0)(6.75,0)(6.755,-.065)(6.76,0)(6.89,0)(6.895,.06)(6.90,0)
(7.09,0)(7.09,.3)(7.105,-.24)(7.11,0)(7.22,0)(7.225,.08)(7.23,0)(7.31,0)(7.315,-.07)(7.32,0)(7.45,0)(7.455,.05)(7.46,0)
(7.66,0)(7.66,.3)(7.675,-.22)(7.68,0)(7.79,0)(7.795,.07)(7.80,0)(7.88,0)(7.885,-.08)(7.89,0)(8.02,0)(8.025,.055)(8.03,0)
(8.22,0)(8.22,.3)(8.235,-.21)(8.24,0)(8.35,0)(8.355,.08)(8.36,0)(8.44,0)(8.445,-.07)(8.45,0)(8.58,0)(8.585,.06)(8.59,0)
(8.79,0)(8.79,.3)(8.805,-.22)(8.81,0)(8.92,0)(8.925,.085)(8.93,0)(9.01,0)(9.015,-.075)(9.02,0)(9.15,0)(9.155,.05)(9.16,0)
(9.35,0)(9.35,.3)(9.365,-.23)(9.37,0)(9.48,0)(9.485,.075)(9.49,0)(9.57,0)(9.575,-.065)(9.58,0)(9.71,0)(9.715,.055)(9.72,0)
(9.92,0)(9.92,.3)(9.935,-.22)(9.94,0)(10.05,0)(10.055,.08)(10.06,0)(10.14,0)(10.145,-.07)(10.15,0)(10.28,0)(10.285,.06)(10.29,0)
(10.48,0)(10.48,.3)(10.495,-.21)(10.50,0)(10.61,0)(10.615,.07)(10.62,0)(10.70,0)(10.705,-.08)(10.71,0)(10.84,0)(10.845,.05)(10.85,0)
(11.05,0)(11.05,.3)(11.065,-.22)(11.07,0)(11.18,0)(11.185,.085)(11.19,0)(11.27,0)(11.275,-.07)(11.28,0)(11.41,0)(11.415,.055)(11.42,0)
(11.61,0)(11.61,.3)(11.625,-.24)(11.63,0)(11.74,0)(11.745,.08)(11.75,0)(11.83,0)(11.835,-.075)(11.84,0)(11.97,0)(11.975,.06)(11.98,0)
(12.18,0)(12.18,.3)(12.195,-.22)(12.20,0)(12.31,0)(12.315,.075)(12.32,0)(12.40,0)(12.405,-.065)(12.41,0)(12.54,0)(12.545,.05)(12.55,0)
(12.74,0)(12.74,.3)(12.755,-.21)(12.76,0)(12.87,0)(12.875,.08)(12.88,0)(12.96,0)(12.965,-.07)(12.97,0)(13.10,0)(13.105,.055)(13.11,0)
(13.31,0)(13.31,.3)(13.325,-.22)(13.33,0)(13.44,0)(13.445,.085)(13.45,0)(13.53,0)(13.535,-.08)(13.54,0)(13.67,0)(13.675,.06)(13.68,0)
(13.87,0)(13.87,.3)(13.885,-.23)(13.89,0)(14.00,0)(14.005,.07)(14.01,0)(14.09,0)(14.095,-.07)(14.10,0)(14.23,0)(14.235,.05)(14.24,0)
(14.44,0)(14.44,.3)(14.455,-.22)(14.46,0)(14.57,0)(14.575,.08)(14.58,0)(14.66,0)(14.665,-.075)(14.67,0)(14.80,0)(14.805,.055)(14.81,0)
(15,0)};
\end{axis}
\end{tikzpicture}
\end{document}
